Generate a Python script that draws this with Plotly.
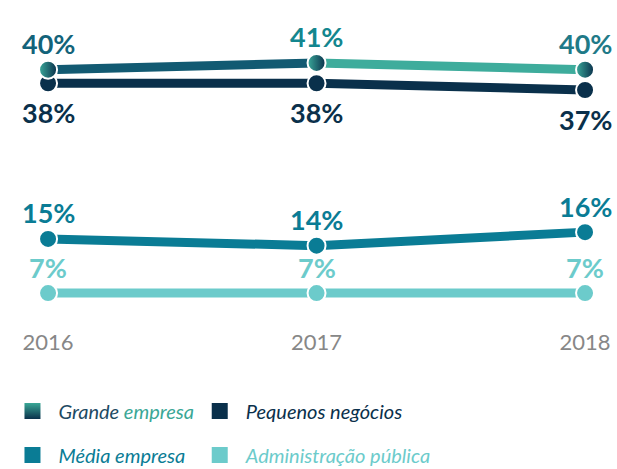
import plotly.graph_objects as go

years = [2016, 2017, 2018]
year_labels = ["2016", "2017", "2018"]
grande = [40, 41, 40]
pequenos = [38, 38, 37]
media = [15, 14, 16]
admin = [7, 7, 7]

NAVY = "#0a304b"
MEDIA = "#0a7c95"
ADMIN = "#6ccbcb"
G_SEG = ["#125a72", "#3eac9c"]
G_LBL = ["#13637a", "#13868e", "#1f7a88"]

fig = go.Figure()

LINE_W = 9
MK = dict(size=18, line=dict(color="white", width=2))
FONT = "Lato"

# Pequenos negócios
fig.add_trace(go.Scatter(x=years, y=pequenos, mode="lines+markers",
    line=dict(color=NAVY, width=LINE_W), marker=dict(color=NAVY, **MK),
    showlegend=False))

# Grande empresa: segments between data points
for i in range(len(years) - 1):
    fig.add_trace(go.Scatter(x=years[i:i+2], y=grande[i:i+2], mode="lines",
        line=dict(color=G_SEG[i], width=LINE_W), showlegend=False, hoverinfo="skip"))
fig.add_trace(go.Scatter(x=years, y=grande, mode="markers",
    marker=dict(color="#3aa99a", gradient=dict(type="horizontal", color=NAVY), **MK),
    showlegend=False))

# Média empresa
fig.add_trace(go.Scatter(x=years, y=media, mode="lines+markers",
    line=dict(color=MEDIA, width=LINE_W), marker=dict(color=MEDIA, **MK),
    showlegend=False))

# Administração pública
fig.add_trace(go.Scatter(x=years, y=admin, mode="lines+markers",
    line=dict(color=ADMIN, width=LINE_W), marker=dict(color=ADMIN, **MK),
    showlegend=False))

# Value labels
series_labels = [
    (grande, G_LBL, 26),
    (pequenos, [NAVY] * 3, -29),
    (media, [MEDIA] * 3, 26),
    (admin, [ADMIN] * 3, 26),
]
for vals, cols, shift in series_labels:
    for xv, yv, c in zip(years, vals, cols):
        fig.add_annotation(x=xv, y=yv, text=f"<b>{yv}%</b>", showarrow=False,
            yshift=shift, font=dict(family=FONT, size=27, color=c))

# Legend entries
leg = [
    ("<span style='color:#1d4a63'>Grande</span> <span style='color:#3aa796'>empresa</span>",
     dict(color="#3aa796", gradient=dict(type="vertical", color=NAVY)), "legend", "g1"),
    ("<span style='color:#0a7c95'>Média empresa</span>", dict(color=MEDIA), "legend", "g2"),
    ("<span style='color:#0a304b'>Pequenos negócios</span>", dict(color=NAVY), "legend2", "g3"),
    ("<span style='color:#6ccbcb'>Administração pública</span>", dict(color=ADMIN), "legend2", "g4"),
]
for name, mk, lg, grp in leg:
    fig.add_trace(go.Scatter(x=[None], y=[None], mode="markers", name=name,
        marker=dict(symbol="square", size=18, **mk), legend=lg, legendgroup=grp))

legend_common = dict(font=dict(family=FONT, size=20, style="italic"),
    bgcolor="rgba(0,0,0,0)", yanchor="top", xanchor="left", tracegroupgap=15,
    traceorder="grouped", itemclick=False, itemdoubleclick=False, itemwidth=42)

fig.update_layout(
    width=617, height=469,
    margin=dict(l=0, r=0, t=0, b=0, autoexpand=False),
    paper_bgcolor="white", plot_bgcolor="white",
    xaxis=dict(range=[2015.821, 2018.119], tickvals=years, ticktext=year_labels,
               showgrid=False, zeroline=False, showline=False, ticks="",
               anchor="free", position=0.303,
               tickfont=dict(family=FONT, size=22, color="#878787")),
    yaxis=dict(range=[-19, 50.3], visible=False, showgrid=False, zeroline=False),
    legend=dict(x=0.0105, y=0.165, **legend_common),
    legend2=dict(x=0.314, y=0.165, **legend_common),
)

fig.write_html("out.html", post_script="document.body.style.margin='0';",
               config={"displayModeBar": False})
